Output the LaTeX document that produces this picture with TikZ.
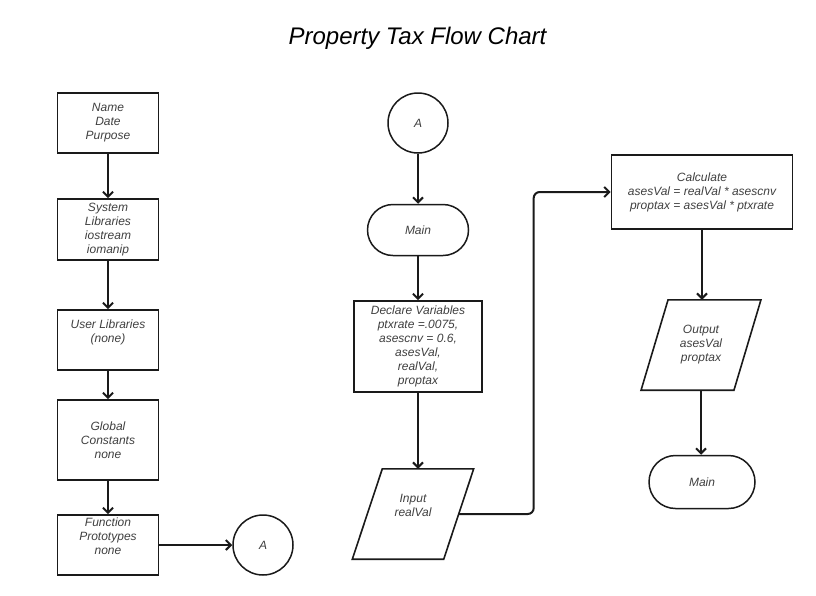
\documentclass[tikz,border=0pt]{standalone}
\usepackage{fontspec}
\setmainfont{Liberation Sans}
\usetikzlibrary{arrows.meta,calc,shapes.misc}
\definecolor{txt}{HTML}{404040}
\definecolor{ln}{HTML}{1A1A1A}
\begin{document}
\begin{tikzpicture}[x=1pt,y=-1pt,
  every node/.style={font=\fontsize{12}{14}\selectfont\itshape, text=txt, align=center, inner sep=0pt},
  procbox/.style={draw=ln, line width=1.8pt, rectangle},
  termbox/.style={draw=ln, line width=1.5pt, rounded rectangle, minimum width=101pt, minimum height=51pt},
  conncirc/.style={draw=ln, line width=1.5pt, circle, minimum size=60pt},
  iobox/.style={draw=none, rectangle},
  para/.style={draw=ln, line width=1.6pt, line join=miter},
  flow/.style={draw=ln, line width=2pt, -{Straight Barb[length=5pt,width=10pt]}}
]
\useasboundingbox (0,0) rectangle (816,595);
\fill[white] (0,0) rectangle (816,595);

% title
\node[font=\fontsize{24}{28}\selectfont\itshape, text=black, anchor=base] (title) at (417.5,44) {Property Tax Flow Chart};

% left column
\node[procbox, minimum width=101pt, minimum height=60pt] (b1) at (108,123) {Name\\Date\\Purpose};
\node[procbox, minimum width=101pt, minimum height=61pt] (b2) at (108,229.5) {System\\Libraries\\iostream\\iomanip};
\node[procbox, minimum width=101pt, minimum height=60pt] (b3) at (108,340) {User Libraries\\(none)\\\strut};
\node[procbox, minimum width=101pt, minimum height=80pt] (b4) at (108,440) {Global\\Constants\\none};
\node[procbox, minimum width=101pt, minimum height=60pt] (b5) at (108,545) {Function\\Prototypes\\none\\\strut};
\node[conncirc] (a1) at (263,545) {A};

\draw[flow] (b1.south) -- (b1.south |- b2.north);
\draw[flow] (b2.south) -- (b2.south |- b3.north);
\draw[flow] (b3.south) -- (b3.south |- b4.north);
\draw[flow] (b4.south) -- (b4.south |- b5.north);
\draw[flow] (b5.east) -- (a1.west);

% middle column
\node[conncirc] (a2) at (418,123) {A};
\node[termbox] (m1) at (418,230) {Main};
\node[procbox, minimum width=128pt, minimum height=91pt] (decl) at (418,346.5) {Declare Variables\\ptxrate =.0075,\\asescnv = 0.6,\\asesVal,\\realVal,\\proptax};
\node[iobox, minimum width=91pt, minimum height=90pt] (in) at (413,514) {Input\\realVal\\\strut};
\draw[para] ($(in.north west)+(15,0)$) -- ($(in.north east)+(15,0)$) -- ($(in.south east)+(-15,0)$) -- ($(in.south west)+(-15,0)$) -- cycle;

\draw[flow] (a2.south) -- (m1.north);
\draw[flow] (m1.south) -- (m1.south |- decl.north);
\draw[flow] (decl.south) -- (decl.south |- in.north);

% right column
\node[procbox, minimum width=181pt, minimum height=74pt] (calc) at (702,192) {Calculate\\asesVal = realVal * asescnv\\proptax = asesVal * ptxrate};
\node[iobox, minimum width=92.5pt, minimum height=90pt] (out) at (701,345) {Output\\asesVal\\proptax};
\draw[para] ($(out.north west)+(13.5,0)$) -- ($(out.north east)+(13.5,0)$) -- ($(out.south east)+(-13.5,0)$) -- ($(out.south west)+(-13.5,0)$) -- cycle;
\node[termbox, minimum width=106pt, minimum height=53pt] (m2) at (702,482) {Main};

\draw[flow, rounded corners=6pt] (in.east) -- ++(75,0) |- (calc.west);
\draw[flow] (calc.south) -- (calc.south |- out.north);
\draw[flow] (out.south) -- (out.south |- m2.north);
\end{tikzpicture}
\end{document}
